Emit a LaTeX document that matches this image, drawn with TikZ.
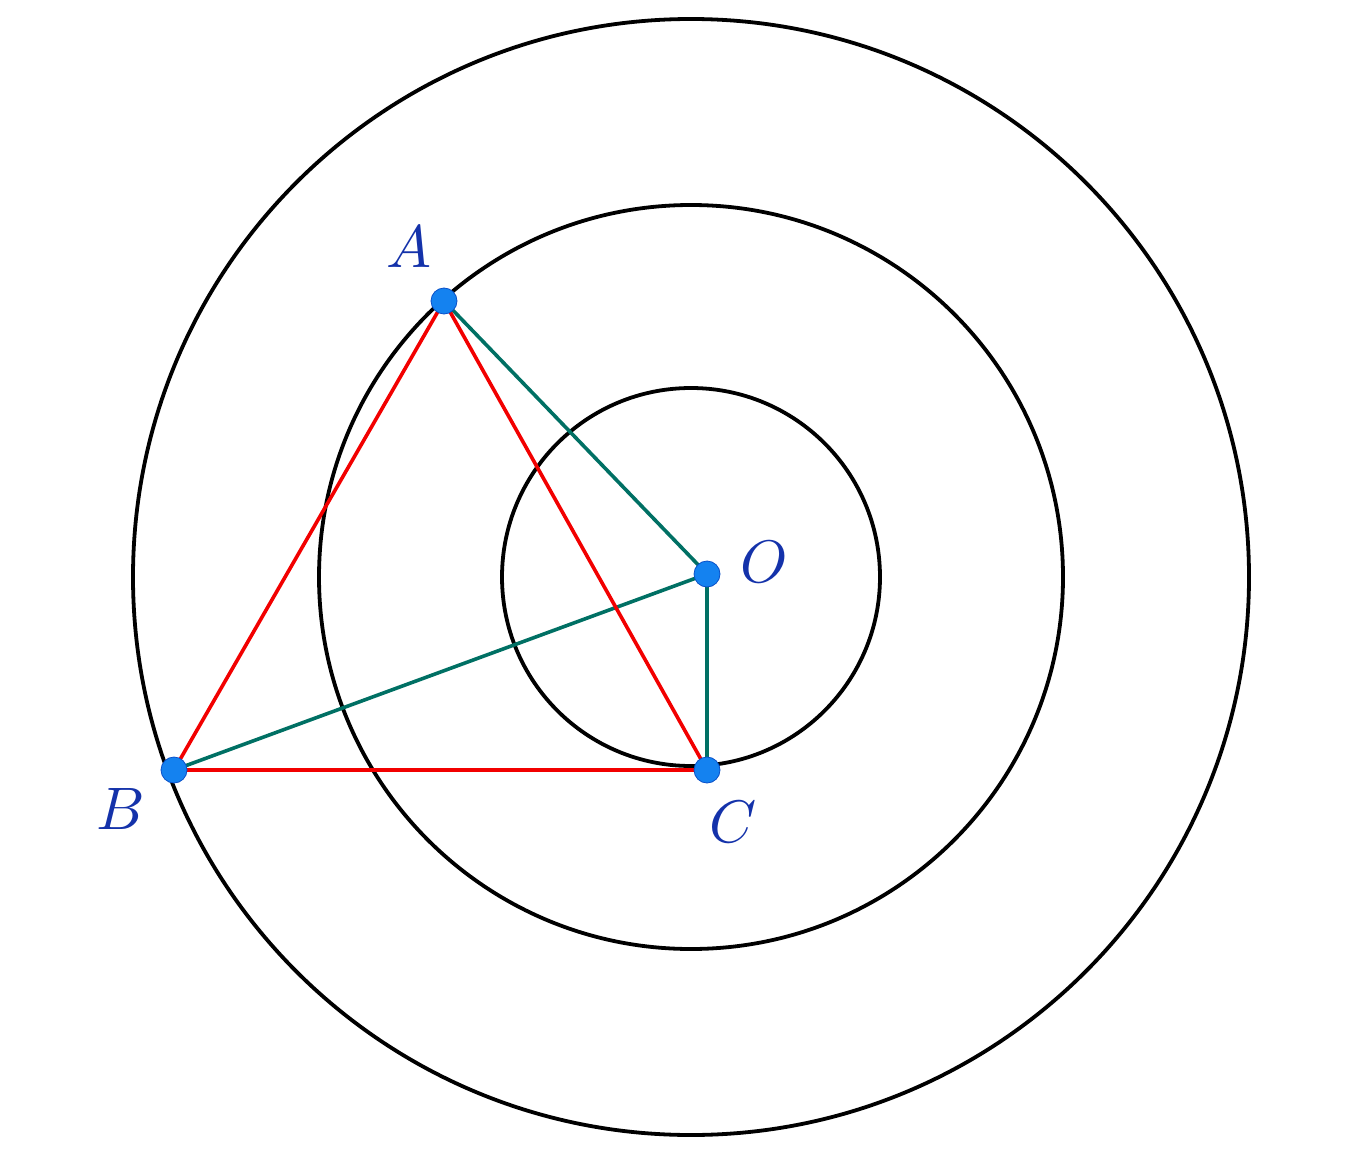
\documentclass[tikz,border=0pt]{standalone}
\begin{document}
\begin{tikzpicture}[x=1pt,y=-1pt,
  circ/.style={line width=3.8pt,black},
  redl/.style={line width=3.6pt,red!95!black},
  teal/.style={line width=3.6pt,color={rgb,255:red,0;green,112;blue,100}},
  pt/.style={circle,fill={rgb,255:red,20;green,130;blue,240},draw={rgb,255:red,10;green,80;blue,200},line width=0.8pt,minimum size=26pt,inner sep=0pt},
  lab/.style={text={rgb,255:red,20;green,50;blue,170},font=\normalsize,scale=6,inner sep=0pt}]
\useasboundingbox (0,0) rectangle (1346,1169);
\coordinate (Z) at (691,577);
\draw[circ] (Z) circle (558);
\draw[circ] (Z) circle (372);
\draw[circ] (Z) circle (189);
\coordinate (A) at (444,301);
\coordinate (B) at (174,770);
\coordinate (C) at (707,770);
\coordinate (O) at (707,574);
\draw[teal] (A) -- (O) -- (C);
\draw[teal] (B) -- (O);
\draw[redl] (A) -- (B) -- (C) -- cycle;
\node[pt] (pA) at (A) {};
\node[pt] (pB) at (B) {};
\node[pt] (pC) at (C) {};
\node[pt] (pO) at (O) {};
\node[lab] (lA) at (409,247) {$A$};
\node[lab] (lO) at (764,562) {$O$};
\node[lab] (lB) at (121,809) {$B$};
\node[lab] (lC) at (733,822) {$C$};
\end{tikzpicture}
\end{document}
